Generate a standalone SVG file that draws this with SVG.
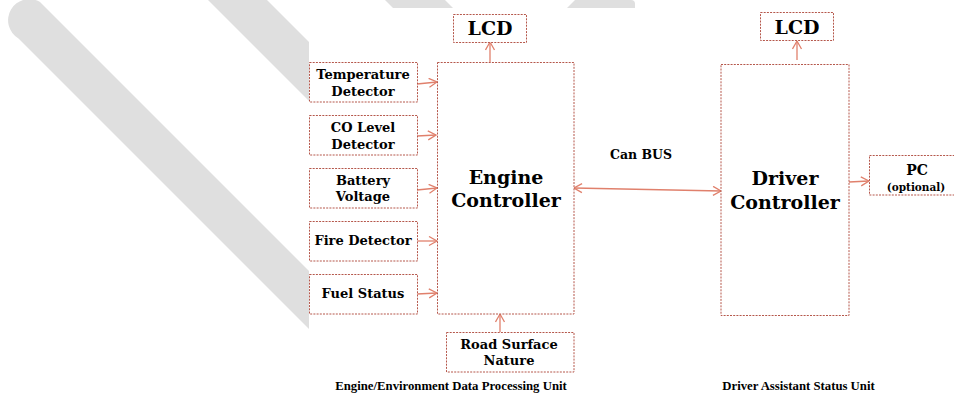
<svg xmlns="http://www.w3.org/2000/svg" width="954" height="393" viewBox="0 0 954 393">
<style>
.box{fill:#fff;stroke:#b5574b;stroke-width:1;stroke-dasharray:2 1.2}
.lbl{font-family:"DejaVu Serif","Liberation Serif",serif;font-weight:bold;fill:#000;text-anchor:middle}
.cap{font-family:"Liberation Serif","Times New Roman",serif;font-weight:bold;fill:#000;text-anchor:middle;font-size:12.75px}
.conn{stroke:#e0806c;stroke-width:1.3;fill:none}
.stripe{fill:#dfdfdf}
</style>
<defs>
<marker id="ah" markerUnits="userSpaceOnUse" markerWidth="12" markerHeight="12" refX="9" refY="5" orient="auto">
<path d="M1,0.5 L9,5 L1,9.5" fill="none" stroke="#e0806c" stroke-width="1.3"/>
</marker>
<marker id="ahs" markerUnits="userSpaceOnUse" markerWidth="12" markerHeight="12" refX="1" refY="5" orient="auto">
<path d="M9,0.5 L1,5 L9,9.5" fill="none" stroke="#e0806c" stroke-width="1.3"/>
</marker>
</defs>
<g id="background">
<path class="stripe" d="M18.5,38.5 A20.5,20.5 0 0 1 40,2 L309,271 L309,329 Z"/>
<polygon class="stripe" points="208,0 267,0 309,42 309,101"/>
<polygon class="stripe" points="385,0 445,0 453,8 393,8"/>
<path class="stripe" d="M575,0 L631,0 A4,4 0 0 1 635,4 L635,8 L567,8 Z"/>
<rect x="309" y="8" width="645" height="385" fill="#fff"/>
</g>
<g id="connectors">
<line class="conn" x1="417" y1="84" x2="437" y2="82" marker-end="url(#ah)"/>
<line class="conn" x1="417" y1="136" x2="436" y2="135" marker-end="url(#ah)"/>
<line class="conn" x1="417" y1="190" x2="437" y2="188" marker-end="url(#ah)"/>
<line class="conn" x1="417" y1="241" x2="437" y2="241" marker-end="url(#ah)"/>
<line class="conn" x1="417" y1="294" x2="437" y2="293" marker-end="url(#ah)"/>
<line class="conn" x1="500" y1="332" x2="500" y2="314" marker-end="url(#ah)"/>
<line class="conn" x1="490" y1="62" x2="490" y2="42" marker-end="url(#ah)"/>
<line class="conn" x1="797" y1="60" x2="797" y2="41" marker-end="url(#ah)"/>
<line class="conn" x1="574" y1="188" x2="721" y2="191" marker-start="url(#ahs)" marker-end="url(#ah)"/>
<line class="conn" x1="849" y1="182" x2="869" y2="181" marker-end="url(#ah)"/>
</g>
<g id="lcd1">
<rect class="box" x="453.5" y="14.5" width="73" height="28"/>
<text class="lbl" x="490" y="34.5" font-size="19">LCD</text>
</g>
<g id="engine-controller">
<rect class="box" x="437.5" y="62.5" width="136.5" height="251.5"/>
<text class="lbl" x="506" y="183.5" font-size="19">Engine</text>
<text class="lbl" x="506" y="207" font-size="19">Controller</text>
</g>
<g id="temperature-detector">
<rect class="box" x="309.5" y="62.5" width="108" height="39.5"/>
<text class="lbl" x="363" y="79" font-size="13">Temperature</text>
<text class="lbl" x="363" y="95.5" font-size="13">Detector</text>
</g>
<g id="co-level-detector">
<rect class="box" x="309.5" y="115.5" width="108" height="39.5"/>
<text class="lbl" x="363" y="131.5" font-size="13">CO Level</text>
<text class="lbl" x="363" y="148.5" font-size="13">Detector</text>
</g>
<g id="battery-voltage">
<rect class="box" x="309.5" y="168.5" width="108" height="39.5"/>
<text class="lbl" x="363" y="185" font-size="13">Battery</text>
<text class="lbl" x="363" y="201" font-size="13">Voltage</text>
</g>
<g id="fire-detector">
<rect class="box" x="309.5" y="221.5" width="108" height="39.5"/>
<text class="lbl" x="363" y="245" font-size="13">Fire Detector</text>
</g>
<g id="fuel-status">
<rect class="box" x="309.5" y="274.5" width="108" height="39.5"/>
<text class="lbl" x="363" y="297.5" font-size="13">Fuel Status</text>
</g>
<g id="road-surface-nature">
<rect class="box" x="446.5" y="332.5" width="127.5" height="39.5"/>
<text class="lbl" x="509" y="348.5" font-size="13">Road Surface</text>
<text class="lbl" x="509" y="364.5" font-size="13">Nature</text>
</g>
<g id="can-bus-label">
<text class="lbl" x="641" y="159" font-size="12.5">Can BUS</text>
</g>
<g id="lcd2">
<rect class="box" x="760.5" y="12.5" width="73" height="28"/>
<text class="lbl" x="797" y="33.5" font-size="19">LCD</text>
</g>
<g id="driver-controller">
<rect class="box" x="721" y="64.5" width="128" height="251"/>
<text class="lbl" x="785" y="185" font-size="19">Driver</text>
<text class="lbl" x="785" y="208.5" font-size="19">Controller</text>
</g>
<g id="pc">
<rect class="box" x="869.5" y="155.5" width="90" height="39.5"/>
<text class="lbl" x="917" y="175" font-size="14">PC</text>
<text class="lbl" x="916" y="190.5" font-size="10.5">(optional)</text>
</g>
<g id="captions">
<text class="cap" x="451" y="390">Engine/Environment Data Processing Unit</text>
<text class="cap" x="798.5" y="390">Driver Assistant Status Unit</text>
</g>
</svg>
